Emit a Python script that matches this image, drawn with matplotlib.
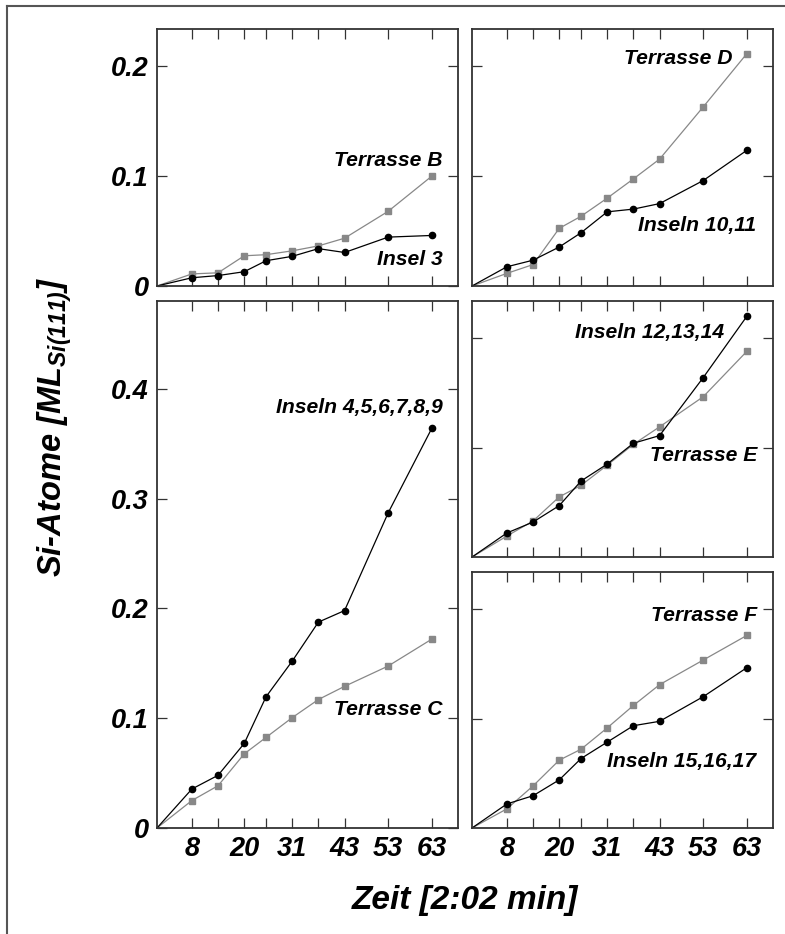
import matplotlib

matplotlib.use("Agg")

import matplotlib.pyplot as plt
from matplotlib.lines import Line2D


# ----------------------------------------------------
# Data
# ----------------------------------------------------

zeit = [0, 8, 14, 20, 25, 31, 37, 43, 53, 63]
tick_positions = [8, 14, 20, 25, 31, 37, 43, 53, 63]
tick_labels = ["8", "", "20", "", "31", "", "43", "53", "63"]

terrasse_b = [0, 0.011, 0.012, 0.0275, 0.0285, 0.032, 0.0365, 0.0435, 0.068, 0.100]
insel_3 = [0, 0.0075, 0.0095, 0.013, 0.023, 0.027, 0.034, 0.0305, 0.0445, 0.046]

terrasse_d = [0, 0.0115, 0.0195, 0.0525, 0.0635, 0.080, 0.0975, 0.1155, 0.163, 0.2115]
inseln_10_11 = [0, 0.0175, 0.0235, 0.0355, 0.0485, 0.0675, 0.070, 0.075, 0.096, 0.1235]

terrasse_c = [0, 0.025, 0.0385, 0.0675, 0.0825, 0.1005, 0.117, 0.129, 0.1475, 0.172]
inseln_4_9 = [0, 0.0355, 0.048, 0.077, 0.1195, 0.152, 0.1875, 0.198, 0.287, 0.364]

terrasse_e = [0, 0.0192, 0.033, 0.055, 0.0655, 0.084, 0.103, 0.119, 0.1465, 0.188]
inseln_12_14 = [0, 0.022, 0.032, 0.047, 0.0695, 0.085, 0.104, 0.111, 0.164, 0.220]

terrasse_f = [0, 0.0175, 0.0385, 0.062, 0.072, 0.0915, 0.112, 0.131, 0.1535, 0.176]
inseln_15_17 = [0, 0.022, 0.0295, 0.044, 0.0635, 0.0785, 0.0935, 0.0975, 0.120, 0.1465]

GRAY = "#888888"
FRAME = "#333333"


def style_axis(ax, ymax, yticks, ylabels, show_x):

    ax.set_xlim(0, 69)
    ax.set_ylim(0, ymax)

    ax.set_xticks(tick_positions)
    ax.set_xticklabels(tick_labels if show_x else [])

    ax.set_yticks(yticks)
    ax.set_yticklabels(ylabels)

    ax.tick_params(
        axis="both",
        direction="in",
        length=7,
        width=0.9,
        top=True,
        right=True,
        labelsize=19.5,
        color=FRAME,
    )
    ax.tick_params(axis="x", pad=6)
    ax.tick_params(axis="y", pad=6)

    for label in ax.get_xticklabels() + ax.get_yticklabels():
        label.set_fontweight("bold")
        label.set_fontstyle("italic")

    for spine in ax.spines.values():
        spine.set_color(FRAME)
        spine.set_linewidth(1.3)


def draw_pair(ax, gray_values, black_values):

    ax.plot(
        zeit,
        gray_values,
        color=GRAY,
        linewidth=0.9,
        marker="s",
        markersize=4,
        markevery=slice(1, None),
        clip_on=False,
    )

    ax.plot(
        zeit,
        black_values,
        color="black",
        linewidth=0.9,
        marker="o",
        markersize=4.5,
        markevery=slice(1, None),
        clip_on=False,
    )


def label(ax, x, y, text):

    ax.text(
        x,
        y,
        text,
        ha="right",
        va="center",
        fontsize=15.2,
        fontweight="bold",
        fontstyle="italic",
    )


def main():

    plt.rcParams["font.family"] = ["Liberation Sans", "DejaVu Sans"]
    plt.rcParams["mathtext.default"] = "regular"

    fig = plt.figure(figsize=(7.85, 9.34), dpi=100)

    # ----------------------------------------------------
    # Panels (positions in figure fractions)
    # ----------------------------------------------------

    ax_b = fig.add_axes([0.200, 0.6938, 0.3834, 0.2752])
    ax_d = fig.add_axes([0.6013, 0.6938, 0.3834, 0.2752])
    ax_c = fig.add_axes([0.200, 0.1135, 0.3834, 0.5643])
    ax_e = fig.add_axes([0.6013, 0.4036, 0.3834, 0.2741])
    ax_f = fig.add_axes([0.6013, 0.1135, 0.3834, 0.2741])

    style_axis(ax_b, 0.234, [0, 0.1, 0.2], ["0", "0.1", "0.2"], False)
    style_axis(ax_d, 0.234, [0.1, 0.2], [], False)
    style_axis(
        ax_c,
        0.48,
        [0, 0.1, 0.2, 0.3, 0.4],
        ["0", "0.1", "0.2", "0.3", "0.4"],
        True,
    )
    style_axis(ax_e, 0.234, [0.1, 0.2], [], False)
    style_axis(ax_f, 0.234, [0.1, 0.2], [], True)

    # ----------------------------------------------------
    # Series
    # ----------------------------------------------------

    draw_pair(ax_b, terrasse_b, insel_3)
    draw_pair(ax_d, terrasse_d, inseln_10_11)
    draw_pair(ax_c, terrasse_c, inseln_4_9)
    draw_pair(ax_e, terrasse_e, inseln_12_14)
    draw_pair(ax_f, terrasse_f, inseln_15_17)

    # ----------------------------------------------------
    # Annotations
    # ----------------------------------------------------

    label(ax_b, 65.4, 0.1145, "Terrasse B")
    label(ax_b, 65.4, 0.0245, "Insel 3")

    label(ax_d, 59.7, 0.207, "Terrasse D")
    label(ax_d, 65.2, 0.0555, "Inseln 10,11")

    label(ax_c, 65.4, 0.383, "Inseln 4,5,6,7,8,9")
    label(ax_c, 65.4, 0.1075, "Terrasse C")

    label(ax_e, 57.9, 0.205, "Inseln 12,13,14")
    label(ax_e, 65.4, 0.093, "Terrasse E")

    label(ax_f, 65.4, 0.194, "Terrasse F")
    label(ax_f, 65.2, 0.061, "Inseln 15,16,17")

    # ----------------------------------------------------
    # Axis titles
    # ----------------------------------------------------

    fig.text(
        0.592,
        0.036,
        "Zeit [2:02 min]",
        ha="center",
        va="center",
        fontsize=24,
        fontweight="bold",
        fontstyle="italic",
    )

    fig.text(
        0.070,
        0.543,
        "Si-Atome [ML$_{Si(111)}$]",
        ha="center",
        va="center",
        rotation=90,
        fontsize=23.5,
        fontweight="bold",
        fontstyle="italic",
    )

    # ----------------------------------------------------
    # Outer frame (left and top edges)
    # ----------------------------------------------------

    fig.add_artist(
        Line2D([0.009, 0.009], [0, 0.9936], color="#555555", linewidth=1.5)
    )
    fig.add_artist(
        Line2D([0.009, 1.0], [0.9936, 0.9936], color="#555555", linewidth=1.5)
    )

    plt.savefig("out.png", dpi=100)
    plt.close()


if __name__ == "__main__":
    main()
